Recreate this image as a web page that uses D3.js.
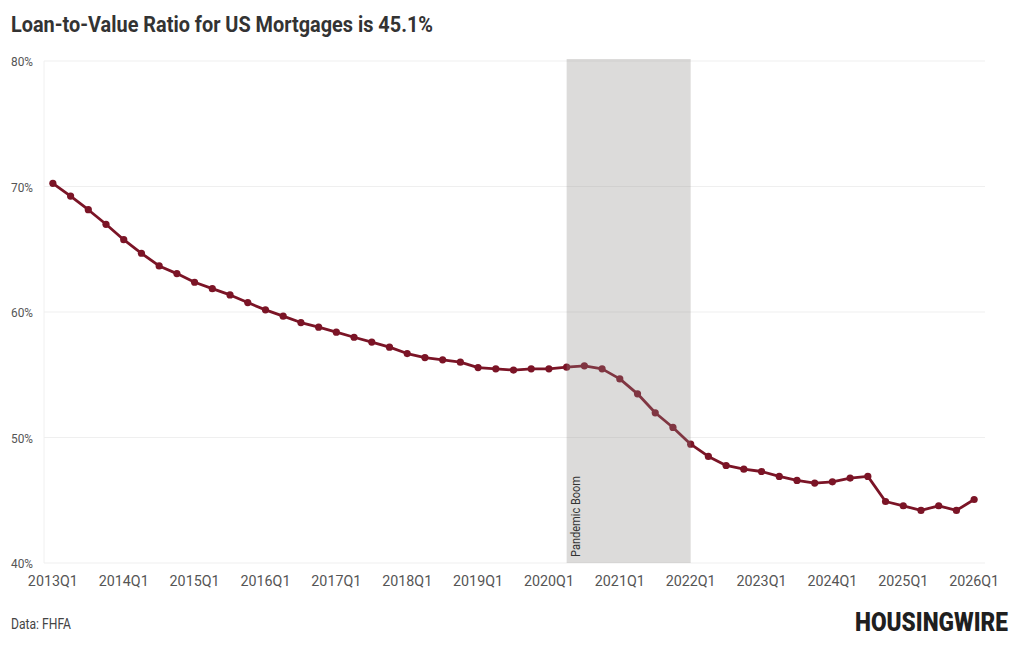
<!DOCTYPE html>
<html>
<head>
<meta charset="utf-8">
<script src="https://cdn.jsdelivr.net/npm/d3@7"></script>
<style>
  html, body { margin: 0; padding: 0; background: #ffffff; }
  svg { display: block; }
</style>
</head>
<body>
<svg id="chart" width="1020" height="650"></svg>
<script>
// ---- data ----
const quarters = [];
for (let y = 2013; y <= 2026; y++) {
  for (let q = 1; q <= 4; q++) {
    if (y === 2026 && q > 1) break;
    quarters.push(y + "Q" + q);
  }
}
const ltvValues = [
  70.25, 69.24, 68.15, 66.99, 65.76, 64.68, 63.67, 63.06,
  62.37, 61.86, 61.36, 60.75, 60.17, 59.67, 59.16, 58.79,
  58.39, 57.99, 57.60, 57.20, 56.69, 56.37, 56.19, 56.00,
  55.57, 55.47, 55.37, 55.47, 55.47, 55.60, 55.71, 55.47,
  54.67, 53.48, 51.97, 50.80, 49.47, 48.49, 47.77, 47.48,
  47.29, 46.90, 46.58, 46.37, 46.47, 46.77, 46.90, 44.90,
  44.56, 44.19, 44.56, 44.19, 45.06
];
const yTicks = [40, 50, 60, 70, 80];
const xTickLabels = ["2013Q1","2014Q1","2015Q1","2016Q1","2017Q1","2018Q1","2019Q1",
                     "2020Q1","2021Q1","2022Q1","2023Q1","2024Q1","2025Q1","2026Q1"];
const shadeRange = ["2020Q2", "2022Q1"];
const shadeLabel = "Pandemic Boom";
const titleText = "Loan-to-Value Ratio for US Mortgages is 45.1%";
const sourceText = "Data: FHFA";
const logoText = "HOUSINGWIRE";

// ---- layout ----
const svg = d3.select("#chart");
const plot = { left: 44, right: 983, top: 61, bottom: 563 };
const font = "Roboto, 'Noto Sans', sans-serif";

const x = d3.scalePoint().domain(quarters).range([plot.left, plot.right]).padding(0.5);
const y = d3.scaleLinear().domain([40, 80]).range([plot.bottom, plot.top]);

// title
svg.append("text")
  .attr("x", 11).attr("y", 32)
  .attr("font-family", font).attr("font-weight", 700).attr("font-size", 22)
  .attr("fill", "#333333")
  .attr("textLength", 422).attr("lengthAdjust", "spacingAndGlyphs")
  .text(titleText);

// gridlines
const gY = svg.append("g");
gY.selectAll("line").data(yTicks).join("line")
  .attr("x1", plot.left).attr("x2", 985)
  .attr("y1", d => y(d)).attr("y2", d => y(d))
  .attr("stroke", "#efefef").attr("stroke-width", 1);
svg.append("line")
  .attr("x1", plot.left).attr("x2", plot.left)
  .attr("y1", plot.top).attr("y2", plot.bottom)
  .attr("stroke", "#f0f0f0").attr("stroke-width", 1);

// y labels
gY.selectAll("text").data(yTicks).join("text")
  .attr("x", 33).attr("y", d => y(d) + 5)
  .attr("text-anchor", "end")
  .attr("font-family", font).attr("font-size", 13.5)
  .attr("fill", "#555555")
  .attr("textLength", 22).attr("lengthAdjust", "spacingAndGlyphs")
  .text(d => d + "%");

// x labels
svg.append("g").selectAll("text").data(xTickLabels).join("text")
  .attr("x", d => x(d)).attr("y", 586)
  .attr("text-anchor", "middle")
  .attr("font-family", font).attr("font-size", 15.5)
  .attr("fill", "#555555")
  .attr("textLength", 50).attr("lengthAdjust", "spacingAndGlyphs")
  .text(d => d);

// line + points
const data = quarters.map((q, i) => ({ q, v: ltvValues[i] }));
const lineGen = d3.line().x(d => x(d.q)).y(d => y(d.v));
const lineColor = "#7b1426";
svg.append("path").datum(data)
  .attr("d", lineGen)
  .attr("fill", "none").attr("stroke", lineColor)
  .attr("stroke-width", 2.8).attr("stroke-linejoin", "round");
svg.append("g").selectAll("circle").data(data).join("circle")
  .attr("cx", d => x(d.q)).attr("cy", d => y(d.v))
  .attr("r", 3.6).attr("fill", lineColor);

// shaded region (drawn over, translucent)
const sx0 = x(shadeRange[0]), sx1 = x(shadeRange[1]);
svg.append("rect")
  .attr("x", sx0).attr("y", plot.top - 2)
  .attr("width", sx1 - sx0).attr("height", plot.bottom - plot.top + 2)
  .attr("fill", "#8c8885").attr("fill-opacity", 0.3);

svg.append("text")
  .attr("transform", `translate(${sx0 + 13},${plot.bottom - 6}) rotate(-90)`)
  .attr("font-family", font).attr("font-size", 12.5)
  .attr("fill", "#333333")
  .attr("textLength", 81).attr("lengthAdjust", "spacingAndGlyphs")
  .text(shadeLabel);

// source
svg.append("text")
  .attr("x", 11).attr("y", 629)
  .attr("font-family", font).attr("font-size", 14.5)
  .attr("fill", "#444444")
  .attr("textLength", 60).attr("lengthAdjust", "spacingAndGlyphs")
  .text(sourceText);

// logo
svg.append("text")
  .attr("transform", "translate(855,631) scale(1,1.15)")
  .attr("font-family", font).attr("font-weight", 900).attr("font-size", 22)
  .attr("fill", "#1f1f1f")
  .attr("textLength", 153).attr("lengthAdjust", "spacingAndGlyphs")
  .text(logoText);
</script>
</body>
</html>
